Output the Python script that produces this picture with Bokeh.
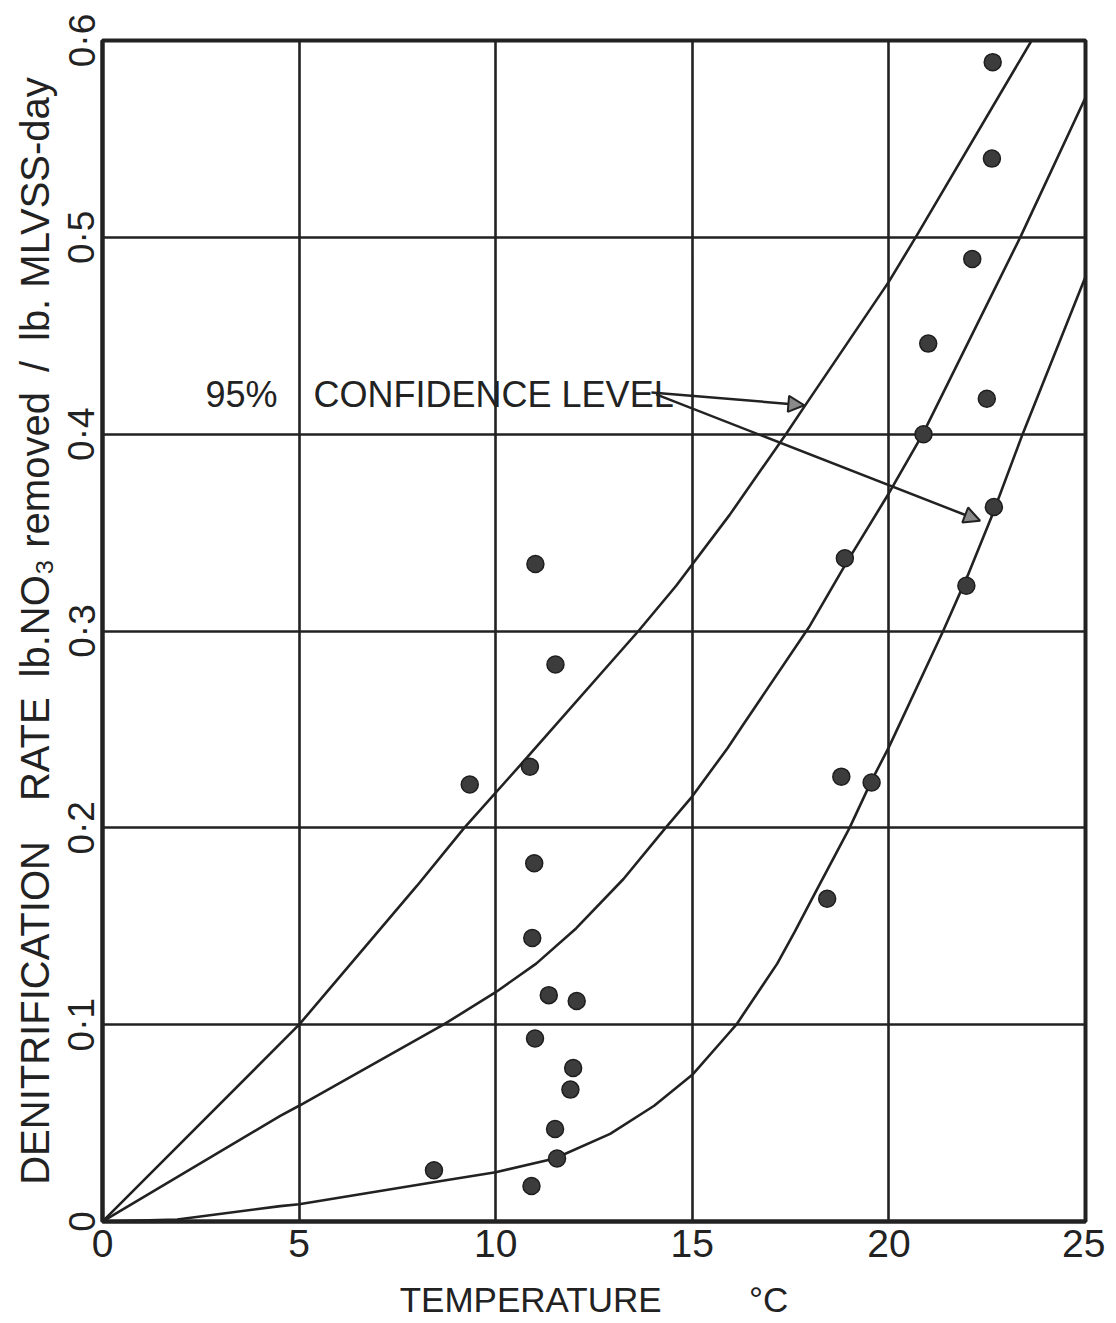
from bokeh.plotting import figure
from bokeh.models import Range1d, FixedTicker, Arrow, NormalHead, Label
from bokeh.embed import file_html
from bokeh.resources import INLINE

# ---- data ----
temp_obs = [11.01, 11.52, 9.34, 10.87, 10.98, 10.93, 11.35, 12.06, 11.00, 11.97,
            11.90, 11.51, 11.56, 8.43, 10.91,
            22.64, 22.62, 22.12, 21.00, 22.49, 20.88, 22.67, 18.88, 21.97,
            18.79, 19.56, 18.43]
rate_obs = [0.334, 0.283, 0.222, 0.231, 0.182, 0.144, 0.115, 0.112, 0.093, 0.078,
            0.067, 0.047, 0.032, 0.026, 0.018,
            0.589, 0.540, 0.489, 0.446, 0.418, 0.400, 0.363, 0.337, 0.323,
            0.226, 0.223, 0.164]

upper_t = [0, 5, 8.0, 9.2, 10.81, 13.63, 14.59, 15.95, 17.38, 17.85, 20, 20.68, 23.63]
upper_rate = [0, 0.1, 0.1706, 0.2, 0.236, 0.3, 0.323, 0.359, 0.4, 0.414, 0.4775, 0.5, 0.6]

middle_t = [0, 4.52, 5, 8.67, 10, 11.03, 12.05, 13.25, 14.32, 15, 15.9, 16.28, 17.97,
            18.9, 20, 20.86, 23.34, 25]
middle_rate = [0, 0.0537, 0.0588, 0.1, 0.1165, 0.131, 0.149, 0.174, 0.2, 0.216,
               0.2406, 0.252, 0.302, 0.334, 0.37, 0.4, 0.5, 0.571]

lower_t = [0, 1.9, 4.52, 5, 8.73, 10, 11.5, 12.91, 14.03, 15, 15.9, 16.12, 17.16, 17.6,
           18.02, 19.0, 19.56, 20, 21.38, 22.0, 22.65, 23.4, 25]
lower_rate = [0, 0.001, 0.0078, 0.0088, 0.021, 0.025, 0.032, 0.0445, 0.0588, 0.0745,
              0.095, 0.1, 0.131, 0.147, 0.163, 0.2, 0.224, 0.241, 0.3, 0.328, 0.36,
              0.4, 0.48]

x_ticks = [0, 5, 10, 15, 20, 25]
y_ticks = [0, 0.1, 0.2, 0.3, 0.4, 0.5, 0.6]
y_tick_labels = ["0", "0·1", "0·2", "0·3", "0·4", "0·5", "0·6"]

annotation_text = "95%\u2003CONFIDENCE LEVEL"
annotation_pos = (2.62, 0.4200)
arrow1 = (13.96, 0.4212, 17.85, 0.4147)
arrow2 = (14.08, 0.4202, 22.32, 0.3560)

FONT = "Liberation Sans"
INK = "#222222"

p = figure(frame_width=983, frame_height=1181,
           min_border_left=102, min_border_top=40, min_border_right=20, min_border_bottom=100,
           x_range=Range1d(0, 25), y_range=Range1d(0, 0.6),
           output_backend="svg", toolbar_location=None,
           background_fill_color="white", border_fill_color="white")

p.outline_line_color = INK
p.outline_line_width = 4

for g in (p.xgrid[0], p.ygrid[0]):
    g.grid_line_color = INK
    g.grid_line_width = 2.6
p.xgrid[0].ticker = FixedTicker(ticks=x_ticks)
p.ygrid[0].ticker = FixedTicker(ticks=y_ticks)

xa = p.xaxis[0]
ya = p.yaxis[0]
xa.ticker = FixedTicker(ticks=x_ticks)
ya.ticker = FixedTicker(ticks=y_ticks)
ya.major_label_overrides = {t: l for t, l in zip(y_ticks, y_tick_labels)}
xa.major_label_overrides = {t: str(t) for t in x_ticks}
ya.major_label_orientation = "vertical"

for ax in (xa, ya):
    ax.axis_line_color = INK
    ax.axis_line_width = 4
    ax.major_tick_in = 0
    ax.major_tick_out = 0
    ax.minor_tick_in = 0
    ax.minor_tick_out = 0
    ax.major_label_text_font = FONT
    ax.major_label_text_color = INK
    ax.axis_label_text_font = FONT
    ax.axis_label_text_font_style = "normal"
    ax.axis_label_text_color = INK

xa.major_label_text_font_size = "39px"
ya.major_label_text_font_size = "37px"
xa.major_label_standoff = 8
ya.major_label_standoff = 0
xa.axis_label = "TEMPERATURE\u2003\u2003\u2002°C"
xa.axis_label_text_font_size = "35px"
xa.axis_label_standoff = 20
ya.axis_label = "DENITRIFICATION\u2003RATE\u2002lb.NO₃ removed\u2002/\u2002lb. MLVSS-day"
ya.axis_label_text_font_size = "40px"
ya.axis_label_standoff = 2

# curves
p.line(upper_t, upper_rate, line_color=INK, line_width=2.6)
p.line(middle_t, middle_rate, line_color=INK, line_width=2.6)
p.line(lower_t, lower_rate, line_color=INK, line_width=2.6)

# observations
p.scatter(temp_obs, rate_obs, size=17, fill_color="#3c3c3c", line_color="#1e1e1e",
          line_width=1.5)

# annotation
p.add_layout(Label(x=annotation_pos[0], y=annotation_pos[1], text=annotation_text,
                   text_font=FONT, text_font_size="36px", text_color=INK,
                   text_baseline="alphabetic"))
for (xs, ys, xe, ye) in (arrow1, arrow2):
    p.add_layout(Arrow(x_start=xs, y_start=ys, x_end=xe, y_end=ye,
                       line_color=INK, line_width=2.5,
                       end=NormalHead(size=16, fill_color="#8a8a8a",
                                      line_color=INK, line_width=2)))

open("out.html", "w").write(file_html(p, INLINE))
